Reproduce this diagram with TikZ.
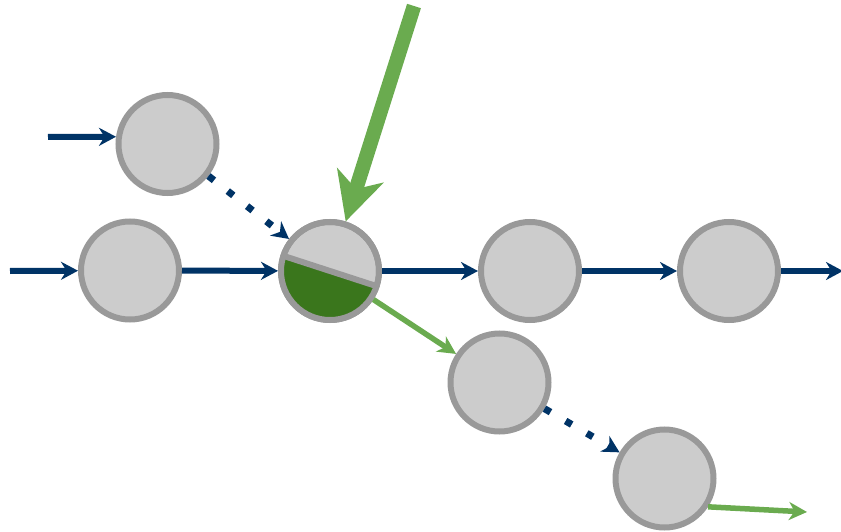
\documentclass[tikz,border=0pt]{standalone}
\usetikzlibrary{arrows.meta,calc}
\definecolor{myblue}{RGB}{0,51,102}
\definecolor{nodefill}{RGB}{204,204,204}
\definecolor{nodeline}{RGB}{153,153,153}
\definecolor{mygreen}{RGB}{106,171,79}
\definecolor{darkgreen}{RGB}{58,118,28}
\begin{document}
\begin{tikzpicture}[x=1pt,y=1pt,
  neuron/.style={circle,draw=nodeline,fill=nodefill,line width=6pt,minimum size=98pt,inner sep=0pt},
  bluearrow/.style={draw=myblue,line width=6pt,-{Stealth[length=17pt,width=18pt,inset=5.5pt]}},
  dotarrow/.style={draw=myblue,line width=7pt,dash pattern=on 7pt off 17.5pt,-{Stealth[length=17pt,width=18pt,inset=5.5pt]}},
  greenarrow/.style={draw=mygreen,line width=5.5pt,-{Stealth[length=18pt,width=18pt,inset=5.5pt]}},
  bigarrow/.style={draw=mygreen,line width=14.5pt,-{Stealth[length=48pt,width=48pt,inset=14pt]}}]
\useasboundingbox (0,0) rectangle (841,-532);
\node[neuron] (A) at (167.5,-144) {};
\node[neuron] (B) at (130,-270.5) {};
\node[neuron] (C) at (330,-271) {};
\node[neuron] (D) at (530,-271) {};
\node[neuron] (E) at (729,-271) {};
\node[neuron] (F) at (499.5,-382.5) {};
\node[neuron] (G) at (664.5,-478.5) {};
% split centre node
\fill[darkgreen] ($(C.center)+(162:49)$) arc[start angle=162,end angle=342,radius=49] -- cycle;
\draw[nodeline,line width=6pt] (C.center) circle[radius=49];
\draw[nodeline,line width=6pt] ($(C.center)+(162:49)$) -- ($(C.center)+(342:49)$);
% free ends
\coordinate (inA) at (48,-137);
\coordinate (inB) at (10,-271);
\coordinate (outE) at (843,-271);
\coordinate (top) at (414,-6);
\coordinate (outG) at (807,-512);
% connectors
\draw[bluearrow] (inA) -- (A.172);
\draw[bluearrow] (inB) -- (B);
\draw[bluearrow] (B) -- (C);
\draw[bluearrow] (C) -- (D);
\draw[bluearrow] (D) -- (E);
\draw[bluearrow] (E) -- (outE);
\draw[dotarrow] (A) -- (C);
\draw[dotarrow] (F) -- (G);
\draw[greenarrow] (C) -- (F);
\draw[greenarrow] (G.-33.5) -- (outG);
\draw[bigarrow] (top) -- (C);
\end{tikzpicture}
\end{document}
